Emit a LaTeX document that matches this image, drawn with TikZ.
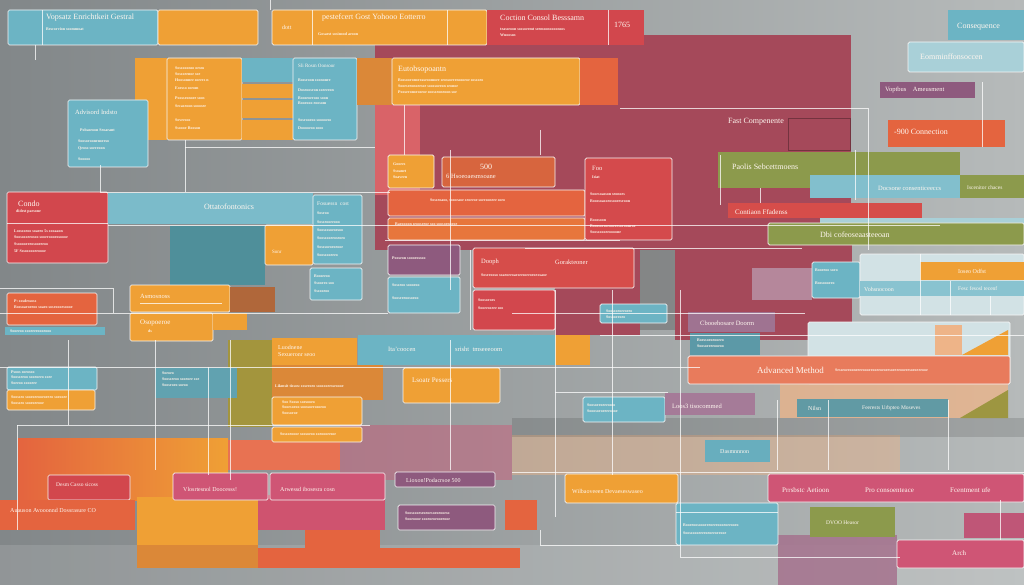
\documentclass[tikz,border=0pt]{standalone}
\usepackage{fontspec}
\setmainfont{Liberation Serif}
\usetikzlibrary{calc}
\definecolor{bgL}{HTML}{828789}
\definecolor{bgR}{HTML}{B6BABA}
\definecolor{cteal}{HTML}{6CB4C4}
\definecolor{ctealD}{HTML}{4F8F9A}
\definecolor{ctealP}{HTML}{A9D0D8}
\definecolor{corange}{HTML}{EFA035}
\definecolor{corangeD}{HTML}{DB8838}
\definecolor{cred}{HTML}{D2474D}
\definecolor{ccoral}{HTML}{E4643F}
\definecolor{cmaroon}{HTML}{A5495A}
\definecolor{colive}{HTML}{8C9A4C}
\definecolor{cpink}{HTML}{CF5575}
\definecolor{cmauve}{HTML}{8E5A7E}
\definecolor{cpale}{HTML}{D2E2E5}
\definecolor{cpeach}{HTML}{EEB488}
\definecolor{cbrown}{HTML}{B0673A}
\newcounter{tn}
\tikzset{
  bb/.style={draw=white!92!gray, line width=0.7pt, rounded corners=1.5pt, inner sep=0pt, outer sep=0pt, anchor=north west},
  bn/.style={inner sep=0pt, outer sep=0pt, anchor=north west},
  wire/.style={draw=white, line width=0.8pt, opacity=0.75},
  hd/.style={font=\fontsize{8}{9}\selectfont, text=white!94!orange, anchor=west, inner sep=0pt},
  sm/.style={font=\fontsize{4}{4.5}\selectfont\bfseries, text=white!92!orange, anchor=west, inner sep=0pt},
}
\newcommand\bx[7][bb]{\node[#1, fill=#7, minimum width={(#5-#3)*1pt}, minimum height={(#6-#4)*1pt}] (#2) at (#3,#4) {};}
\newcommand\hx[4][]{\stepcounter{tn}\node[hd,#1] (t\arabic{tn}) at (#2,#3) {#4};}
\newcommand\sx[4][]{\stepcounter{tn}\node[sm,#1] (t\arabic{tn}) at (#2,#3) {#4};}
\begin{document}
\begin{tikzpicture}[x=1pt,y=-1pt]
\useasboundingbox (0,0) rectangle (1024,585);
% background
\shade[left color=bgL, right color=bgR] (0,0) rectangle (1024,585);
\fill[white, opacity=0.12] (0,545) rectangle (1024,585);
% large back regions
\fill[cmaroon] (375,35) rectangle (851,250);
\fill[cmaroon] (555,240) rectangle (640,335);
\fill[cmaroon] (675,240) rectangle (852,340);
\fill[gray!80!black, opacity=0.5] (640,250) rectangle (675,330);
\fill[cred!85!white] (375,105) rectangle (420,195);
\shade[left color=ccoral, right color=corange] (18,438) rectangle (228,500);
\fill[ccoral!85!pink] (228,440) rectangle (340,470);
\fill[cpink, opacity=0.45] (340,425) rectangle (512,480);
\fill[cpeach, opacity=0.45] (512,435) rectangle (900,475);
\fill[colive!80!orange] (228,340) rectangle (272,427);
\fill[corangeD] (272,365) rectangle (383,400);
\fill[black, opacity=0.12] (512,418) rectangle (1024,437);
\fill[cmauve!80!pink, opacity=0.8] (778,535) rectangle (897,585);
% top row
\bx{ta}{8}{10}{158}{45}{cteal}
\bx{tb}{158}{10}{258}{45}{corange}
\bx{tc}{272}{10}{487}{45}{corange}
\bx[bn]{td}{487}{10}{644}{45}{cred}
\bx[bn]{te}{948}{10}{1024}{40}{cteal}
\bx{tf}{908}{42}{1024}{72}{ctealP}
\bx[bn]{tg}{880}{82}{975}{98}{cmauve}
\bx[bn]{th}{888}{120}{1005}{147}{ccoral}
\draw[wire] (42,10) -- (42,45) (312,10) -- (312,45) (447,10) -- (447,45) (608,10) -- (608,45);
\hx{46}{18}{Vopsatz Enrichtkeit Gestral}
\sx{46}{29}{Bescorvion soommoat}
\hx{322}{18}{pestefcert Gost Yohooo Eotterro}
\hx[font=\fontsize{6}{7}\selectfont]{282}{27}{dott}
\sx{318}{34}{Gosaest sosinood aeoon}
\hx{500}{18}{Coction Consol Besssamn}
\sx{500}{29}{teasseoon sossoeemt seemsonoooonsos}
\sx{500}{35}{Wuoossn}
\hx{614}{25}{1765}
\hx{957}{27}{Consequence}
\hx{920}{57}{Eomminffonsoccen}
\hx[font=\fontsize{6.5}{7}\selectfont]{885}{90}{Voptbus\quad Ameusment}
\hx{894}{132}{-900 Connection}
% second row
\bx[bn]{oa}{135}{58}{167}{140}{corange}
\bx{ob}{167}{58}{242}{140}{corange}
\bx[bn]{oc}{242}{58}{293}{82}{cteal}
\bx[bn]{od}{242}{84}{293}{98}{corange}
\bx[bn]{oe}{242}{100}{293}{118}{corange}
\bx[bn]{of}{242}{120}{293}{140}{corange}
\bx{og}{293}{58}{357}{140}{cteal}
\bx[bn]{oh}{357}{58}{392}{105}{corangeD}
\bx{oi}{392}{58}{580}{105}{corange}
\bx[bn]{oj}{580}{58}{618}{105}{ccoral}
\bx{ok}{68}{100}{148}{167}{cteal}
\sx{175}{68}{Sossooonso oesm}
\sx{175}{74}{Sossoeenoe soe}
\sx{175}{80}{Hoosonnee soeees n}
\sx{175}{88}{Eoesso soeom}
\sx{175}{98}{Poosseonoee sson}
\sx{175}{106}{Secaseoon sooosee}
\sx{175}{120}{Soveeoos}
\sx{175}{128}{Ssoooe Rooson}
\hx[font=\fontsize{5}{6}\selectfont]{298}{66}{Sli Rosm Oonsoor}
\sx{298}{80}{Bosseoon soononee}
\sx{298}{90}{Doseooseon soeeeeon}
\sx{298}{98}{Booseoeeoso soon}
\sx{298}{103}{Booeooo eoosom}
\sx{298}{120}{Soseooeoo sooooeso}
\sx{298}{128}{Dooooeoo sooo}
\hx{398}{70}{Eutobsopoantn}
\sx{398}{80}{Bossooeonoeeaseoomoee seossoeeenosoeoe sossoeo}
\sx{398}{86}{Sooeseeonoeesoe soossoeeon seonoe}
\sx{398}{92}{Pooseeonoeoseoe soosseoneoon soe}
\hx[font=\fontsize{6.5}{7}\selectfont]{75}{112}{Advisord Indsto}
\sx{80}{130}{Pobaseoon Seoarant}
\sx{78}{141}{Soosoeoonenoeeso}
\sx{78}{149}{Qeoso soeeeoon}
\sx{78}{159}{Sooooo}
% third row
\bx{ra}{388}{155}{434}{188}{corange}
\bx{rb}{442}{157}{555}{187}{ccoral!75!cbrown}
\bx{rc}{388}{190}{585}{216}{ccoral}
\bx{rd}{388}{218}{585}{240}{ccoral!70!corange}
\bx{re}{585}{158}{672}{240}{cred!90!ccoral}
\draw[cmaroon!70!black, line width=0.7pt] (788,118) rectangle (850,150);
\bx[bn]{rf}{718}{152}{960}{188}{colive}
\bx[bn]{rg}{810}{175}{960}{198}{cteal!85!white}
\bx[bn]{rh}{960}{175}{1024}{198}{colive}
\bx[bn]{ri}{728}{203}{922}{218}{cred!80!ccoral}
\bx[bn]{rj}{820}{218}{1024}{226}{ctealP}
\bx{rk}{768}{223}{1024}{245}{colive}
\sx{393}{164}{Gooees}
\sx{393}{171}{Ssoanet}
\sx{393}{177}{Soaveen}
\hx{480}{167}{500}
\hx[font=\fontsize{6.5}{7}\selectfont]{446}{176}{6 Hsoeoaesmsoane}
\sx{430}{200}{Sosseoaoo, sosoeaoe seoeeoe soeesoneee soeo}
\sx{395}{224}{Baeoooon seooseeoe soo soosoenoeoe}
\hx[font=\fontsize{6.5}{7}\selectfont]{592}{168}{Foo}
\sx{592}{177}{Isiat}
\sx{590}{194}{Sooesoasson seonoes}
\sx{590}{201}{Boossoasoeosooeeseoon}
\sx{590}{220}{Boossoon}
\sx{590}{226}{Boossoesoeooeeesoeooneoe}
\sx{590}{232}{Soossoooeeoooone}
\hx{728}{122}{Fast Compenente}
\hx{732}{167}{Paolis Sebcettmoens}
\hx[font=\fontsize{6.5}{7}\selectfont]{878}{188}{Docsone consenticeeccs}
\hx[font=\fontsize{5.5}{6}\selectfont]{967}{188}{Iscenitor chaces}
\hx[font=\fontsize{7}{8}\selectfont]{735}{212}{Contiaon Ffadenss}
\hx{820}{235}{Dbi cofeoseaasteeoan}
% left block row 3
\bx{ca}{7}{192}{108}{263}{cred}
\draw[wire] (7,223) -- (108,223);
\hx{18}{204}{Condo}
\sx{16}{212}{didest parsone}
\sx{14}{231}{Losssoeoo soaeeo 5s sooaaon}
\sx{14}{237}{Soososoeeosoo sooeeoooeosoooe}
\sx{14}{244}{Ssooooeeeosooeeeoo}
\sx{14}{251}{5F Sssosoooeeoooe}
\bx[bn]{cb}{108}{193}{313}{224}{cteal!90!white}
\hx{204}{207}{Ottatofontonics}
\bx[bn]{cc}{170}{226}{265}{285}{ctealD}
\bx{cd}{265}{225}{313}{265}{corange}
\hx[font=\fontsize{5}{6}\selectfont]{272}{252}{Sonr}
\bx{ce}{313}{195}{362}{264}{cteal}
\hx[font=\fontsize{5.5}{6}\selectfont]{317}{204}{Fosuessn\ \ cost}
\sx{317}{213}{Soseoo}
\sx{317}{222}{Sosseooeeooo}
\sx{317}{230}{Soossosoeoesoo}
\sx{317}{238}{Soossooeeoseoeo}
\sx{317}{247}{Sosssoeoeoeooe}
\sx{317}{255}{Soossooeeeo}
\bx{cf}{310}{268}{362}{300}{cteal}
\sx{314}{276}{Booseeoo}
\sx{314}{283}{Ssooeeo soo}
\sx{314}{291}{Sssooeoo}
% row 4
\bx{da}{388}{245}{460}{275}{cmauve}
\sx{392}{258}{Pooseon soooeossoo}
\bx{db}{388}{277}{460}{313}{cteal}
\sx{392}{285}{Sosseoo soooeoo}
\sx{392}{298}{Sooseeeoosoeoo}
\bx{dc}{473}{248}{634}{288}{cred!80!ccoral}
\hx[font=\fontsize{6.5}{7}\selectfont]{481}{262}{Dooph}
\hx[font=\fontsize{6.5}{7}\selectfont]{555}{262}{Gorakteoner}
\sx{481}{275}{Soseeooso soaeoeeoaeseesoeeoeoeosaoe}
\bx{dd}{473}{290}{555}{330}{cred}
\sx{478}{300}{Soosoeoes}
\sx{478}{308}{Sooeeoseee soo}
\bx{de}{600}{304}{667}{323}{cteal}
\sx{606}{311}{Soossoeoeeoeeo}
\sx{606}{317}{Sosooeeoeo}
\fill[cmauve!60!white, opacity=0.75] (752,268) rectangle (812,300);
\bx[bn]{df}{688}{312}{775}{332}{cmauve!85!white}
\hx[font=\fontsize{6.5}{7}\selectfont]{700}{323}{Cbooehosare Doorm}
\bx[bn]{dg}{690}{333}{760}{355}{cteal!85!black}
\sx{697}{340}{Boessoeoeooeeo}
\sx{697}{346}{Soosoeeeeooeoo}
\bx{dh}{812}{262}{860}{298}{cteal}
\sx{815}{270}{Booeeoo soeo}
\sx{815}{283}{Bossoooeeo}
\bx{di}{860}{254}{1024}{315}{cpale}
\bx[bn]{dj}{920}{262}{1024}{280}{corange}
\bx[bn]{dk}{860}{281}{1024}{296}{cteal!80!white}
\draw[wire] (920,254) -- (920,315) (950,281) -- (950,315) (990,296) -- (990,315);
\hx[font=\fontsize{6}{7}\selectfont]{958}{271}{Ioseo Odfst}
\hx[font=\fontsize{6}{7}\selectfont]{864}{289}{Vohsnocoon}
\hx[font=\fontsize{5.5}{6}\selectfont]{958}{289}{Fesc fesosl tecenf}
% right lower
\bx{ea}{808}{322}{1010}{384}{cpale}
\fill[cpeach] (935,325) rectangle (962,355);
\fill[corange] (962,355) -- (1008,330) -- (1008,355) -- cycle;
\fill[cpeach, opacity=0.75] (780,384) rectangle (1008,418);
\fill[colive!85!orange] (960,418) -- (1008,390) -- (1008,418) -- cycle;
\bx{eb}{688}{356}{1010}{384}{ccoral!85!white}
\hx[font=\fontsize{9}{10}\selectfont]{757}{370}{Advanced Method}
\sx{835}{370}{Sesseoeeooneeeeoooeeooeeoeoeesoeeeeooeeesoeoeeeooe}
\bx[bn]{ec}{797}{399}{948}{417}{ctealD!90!white}
\hx[font=\fontsize{6}{7}\selectfont]{808}{408}{Nilsn}
\hx[font=\fontsize{5.5}{6}\selectfont]{862}{408}{Feerests Urbpteo Moseves}
\bx{ed}{583}{397}{665}{422}{cteal}
\sx{587}{405}{Soosoeeoeeeosoo}
\sx{587}{411}{Sooosoeoeeeeoooe}
\bx[bn]{ee}{665}{393}{755}{415}{cmauve!80!white}
\hx[font=\fontsize{6.5}{7}\selectfont]{672}{406}{Loos3 tisocommed}
\bx[bn]{ef}{705}{440}{770}{462}{cteal!85!ctealD}
\hx[font=\fontsize{6}{7}\selectfont]{720}{452}{Dasmnnnon}
% left middle
\bx{fa}{7}{293}{97}{325}{ccoral}
\sx{14}{301}{P: sosdessoss}
\sx{14}{307}{Bossoaeoeeoo soaeo soseoooesoooe}
\bx[bn]{fb}{5}{327}{105}{335}{cteal}
\sx{10}{331}{Sooeeoo sooeeeeoooeooo}
\bx{fc}{130}{285}{230}{312}{corange}
\hx[font=\fontsize{6.5}{7}\selectfont]{140}{296}{Asmosnoss}
\draw[wire] (140,303) -- (222,303);
\bx[bn]{fd}{230}{287}{275}{312}{cbrown}
\bx{fe}{130}{313}{213}{341}{corange}
\hx[font=\fontsize{7}{8}\selectfont]{140}{323}{Osopoeroe}
\sx{148}{331}{ds}
\bx[bn]{ff}{213}{313}{247}{330}{corange}
\bx{fg}{7}{367}{97}{390}{cteal}
\sx{11}{372}{Psoos soeosoo}
\sx{11}{377}{Soosseeoo sooeoeeo soee}
\sx{11}{383}{Soeeoo soooeee}
\bx{fh}{7}{390}{95}{410}{corange}
\sx{11}{397}{Soosseo sooeoeeooeoeeeo soeooee}
\sx{11}{403}{Soosseo sooeoeeooe}
\bx[bn]{fi}{155}{368}{237}{398}{cteal!90!black}
\sx{162}{373}{Soeoeo}
\sx{162}{379}{Soosseeoo sooeoee soe}
\sx{162}{385}{Sooseoeo soeoo}
\bx[bn]{fj}{272}{338}{357}{365}{corange}
\hx[font=\fontsize{6}{7}\selectfont]{278}{347}{Luodnene}
\hx[font=\fontsize{6}{7}\selectfont]{278}{355}{Sexueronr seoo}
\sx{275}{386}{Likmsit tissow soseeoeo soosooeesseoooe}
\bx{fk}{272}{397}{362}{425}{corange}
\sx{282}{402}{Soo Sooso soesooeo}
\sx{282}{407}{Sooesoeoo soossoeeosoeoo}
\sx{282}{413}{Soosoeoe}
\bx{fl}{272}{427}{362}{442}{corange}
\sx{280}{434}{Sossoeoooe soosoeoo soeoooeesoe}
\bx[bn]{fm}{358}{335}{555}{365}{cteal}
\hx[font=\fontsize{6.5}{7}\selectfont]{388}{349}{Ita'coocen}
\hx[font=\fontsize{6.5}{7}\selectfont]{455}{349}{srisht\ \ tmseeeoom}
\bx[bn]{fn}{555}{335}{590}{365}{corange}
\bx{fo}{403}{368}{500}{403}{corange}
\hx[font=\fontsize{7}{8}\selectfont]{412}{380}{Lsoatr Pessers}
% bottom
\bx{ga}{48}{475}{130}{500}{cred}
\hx[font=\fontsize{5.5}{6}\selectfont]{56}{485}{Desm Casso sicoss}
\bx[bn]{gb}{0}{500}{135}{530}{ccoral}
\hx[font=\fontsize{6}{7}\selectfont]{10}{510}{Auauson Avooonnd Dossrasure CO}
\bx[bn]{gc}{137}{497}{258}{560}{corange}
\bx[bn]{gd}{258}{495}{385}{530}{cpink!85!cred}
\bx[bn]{ge}{305}{530}{380}{560}{ccoral}
\bx[bn]{gf}{258}{548}{520}{568}{ccoral}
\bx[bn]{gg}{137}{545}{258}{568}{corangeD}
\bx{gh}{173}{473}{268}{500}{cpink}
\hx[font=\fontsize{6}{7}\selectfont]{183}{489}{Vlosrtesnol Doocesss!}
\bx{gi}{270}{473}{385}{500}{cpink}
\hx[font=\fontsize{6}{7}\selectfont]{280}{489}{Arwessd ibosesra cosn}
\bx{gj}{395}{472}{495}{487}{cmauve}
\hx[font=\fontsize{6}{7}\selectfont]{406}{480}{Lioxon!Podacrsoe 500}
\bx{gk}{398}{505}{495}{530}{cmauve}
\sx{405}{513}{Soossooeseoeoesoeoeooeso}
\sx{405}{519}{Sooeoooe sooeoeoeooeeooe}
\bx[bn]{gl}{505}{500}{537}{530}{ccoral}
\bx{gm}{565}{474}{678}{503}{corange}
\hx[font=\fontsize{6}{7}\selectfont]{572}{491}{Wilbaoveeen Devaeseswaseo}
\bx{gn}{768}{474}{1024}{502}{cpink}
\hx[font=\fontsize{7}{8}\selectfont]{782}{490}{Prrsbstc Aetioon}
\hx[font=\fontsize{7}{8}\selectfont]{865}{490}{Pro consoenteace}
\hx[font=\fontsize{7}{8}\selectfont]{950}{490}{Fcentment ufe}
\bx{go}{676}{503}{778}{545}{cteal}
\draw[wire] (676,512) -- (778,512);
\sx{683}{525}{Booeeoosoooeeeoeeeoooeoeeooeo}
\sx{683}{533}{Soossoooeeeeoeoeeoeeooe}
\bx[bn]{gp}{810}{507}{895}{537}{colive}
\hx[font=\fontsize{5.5}{6}\selectfont]{826}{523}{DVOO Heasor}
\bx[bn]{gq}{964}{513}{1024}{538}{cpink!75!cmauve}
\bx{gr}{897}{540}{1024}{568}{cpink}
\hx[font=\fontsize{7}{8}\selectfont]{952}{553}{Arch}
% connector lines
\draw[wire] (620,108) -- (868,108) -- (868,250);
\draw[wire] (185,147) -- (375,147);
\draw[wire] (100,192) -- (390,192);
\draw[wire] (108,225) -- (940,225);
\draw[wire] (385,240) -- (620,240);
\draw[wire] (525,248) -- (802,248);
\draw[wire] (0,288) -- (113,288) -- (113,313);
\draw[wire] (0,313) -- (388,313);
\draw[wire] (512,313) -- (805,313);
\draw[wire] (600,335) -- (1024,335);
\draw[wire] (0,367) -- (700,367);
\draw[wire] (555,392) -- (668,392);
\draw[wire] (17,425) -- (17,530);
\draw[wire] (17,425) -- (370,425);
\draw[wire] (512,472) -- (1024,472);
\draw[wire] (680,557) -- (900,557);
\draw[wire] (155,340) -- (155,470);
\draw[wire] (68,340) -- (68,425);
\draw[wire] (208,367) -- (208,475);
\draw[wire] (230,340) -- (230,480);
\draw[wire] (450,150) -- (450,290);
\draw[wire] (450,340) -- (450,470);
\draw[wire] (470,250) -- (470,330);
\draw[wire] (680,290) -- (680,557);
\draw[wire] (555,290) -- (555,517);
\draw[wire] (612,290) -- (612,475);
\draw[wire] (777,400) -- (777,470);
\draw[wire] (828,400) -- (828,470);
\draw[wire] (948,400) -- (948,470);
\draw[wire] (982,82) -- (982,147);
\draw[wire] (855,150) -- (855,200);
\draw[wire] (185,140) -- (185,192);
\draw[wire] (270,0) -- (270,10) (35,45) -- (35,60) (100,165) -- (100,192);
\draw[wire] (404,105) -- (404,155);
\draw[wire] (540,130) -- (540,155);
\draw[wire] (720,155) -- (720,205);
\draw[wire] (760,188) -- (760,203);
\draw[wire] (1000,500) -- (1000,540);
\draw[wire] (540,530) -- (540,545) -- (680,545);
\end{tikzpicture}
\end{document}
